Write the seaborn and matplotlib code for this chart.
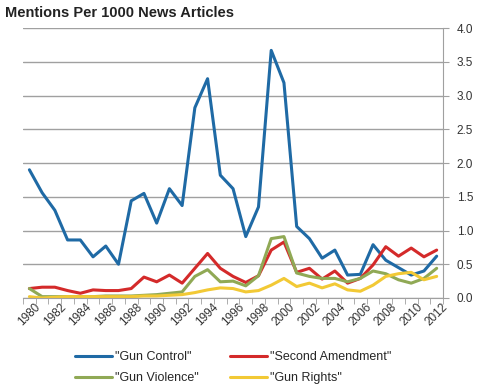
import numpy as np
import pandas as pd
import matplotlib.pyplot as plt
import seaborn as sns

years = list(range(1980, 2013))
gun_control = [1.90, 1.56, 1.30, 0.86, 0.86, 0.61, 0.77, 0.50, 1.44, 1.55, 1.11, 1.62, 1.37,
               2.82, 3.25, 1.82, 1.62, 0.91, 1.35, 3.67, 3.19, 1.06, 0.88, 0.59, 0.71, 0.34,
               0.35, 0.79, 0.56, 0.45, 0.34, 0.40, 0.62]
second_amendment = [0.14, 0.16, 0.16, 0.11, 0.07, 0.12, 0.11, 0.11, 0.14, 0.31, 0.24, 0.34, 0.22,
                    0.44, 0.66, 0.44, 0.32, 0.23, 0.33, 0.71, 0.83, 0.38, 0.44, 0.28, 0.40, 0.22,
                    0.29, 0.49, 0.76, 0.62, 0.74, 0.61, 0.71]
gun_violence = [0.14, 0.02, 0.02, 0.02, 0.02, 0.02, 0.03, 0.03, 0.03, 0.04, 0.05, 0.07, 0.09,
                0.32, 0.42, 0.24, 0.25, 0.18, 0.33, 0.88, 0.91, 0.37, 0.32, 0.29, 0.29, 0.24,
                0.29, 0.40, 0.36, 0.27, 0.22, 0.29, 0.44]
gun_rights = [0.02, 0.00, 0.01, 0.02, 0.02, 0.02, 0.02, 0.02, 0.02, 0.03, 0.03, 0.04, 0.05,
              0.08, 0.12, 0.15, 0.14, 0.09, 0.11, 0.19, 0.29, 0.17, 0.22, 0.15, 0.21, 0.12,
              0.10, 0.19, 0.32, 0.36, 0.38, 0.27, 0.32]
series = ['"Gun Control"', '"Second Amendment"', '"Gun Violence"', '"Gun Rights"']
colors = ['#1f6aa5', '#d42a2a', '#90a955', '#f2c935']

df = pd.DataFrame({'Year': years, series[0]: gun_control, series[1]: second_amendment,
                   series[2]: gun_violence, series[3]: gun_rights})
long = df.melt(id_vars='Year', var_name='Term', value_name='Mentions')

sns.set_style('white')
plt.rcParams['font.family'] = ['Liberation Sans', 'DejaVu Sans']

fig = plt.figure(figsize=(4.8, 3.85), dpi=100)
ax = fig.add_axes([0.048, 0.226, 0.875, 0.701])
sns.lineplot(data=long, x='Year', y='Mentions', hue='Term', palette=colors,
             linewidth=2.2, ax=ax, legend=True)

ax.set_xlim(1979.5, 2012.5)
ax.set_ylim(0, 4)
ax.set_yticks(np.arange(0, 4.01, 0.5))
ax.set_yticklabels([f'{v:.1f}' for v in np.arange(0, 4.01, 0.5)], fontsize=8.5, color='#333333')
ax.yaxis.tick_right()
ax.grid(axis='y', color='#a0a0a0', linewidth=1)
ax.set_axisbelow(True)
ax.set_xticks(years[::2])
ax.set_xticklabels([str(y) for y in years[::2]], rotation=45, fontsize=8.5, color='#333333')
ax.set_xticks(np.arange(1979.5, 2013, 1), minor=True)
ax.tick_params(axis='x', which='major', length=0, pad=2)
ax.tick_params(axis='x', which='minor', length=4, color='#a0a0a0', bottom=True)
ax.tick_params(axis='y', length=4, color='#a0a0a0', right=True, pad=6)
ax.set_xlabel('')
ax.set_ylabel('')
for s in ['top', 'left']:
    ax.spines[s].set_visible(False)
ax.spines['right'].set_color('#a0a0a0')
ax.spines['bottom'].set_color('#a0a0a0')

# legend filled row by row: Gun Control / Second Amendment, then Gun Violence / Gun Rights
handles, labels = ax.get_legend_handles_labels()
order = [0, 2, 1, 3]
ax.legend([handles[i] for i in order], [labels[i] for i in order], ncol=2,
          loc='upper center', bbox_to_anchor=(0.5, -0.155),
          frameon=False, fontsize=9, handlelength=3, columnspacing=2.5,
          labelspacing=0.75, handletextpad=0.2)

fig.text(0.01, 0.965, 'Mentions Per 1000 News Articles', fontsize=10.5, fontweight='bold',
         color='#222222', va='center')

fig.savefig('out.png', dpi=100)
